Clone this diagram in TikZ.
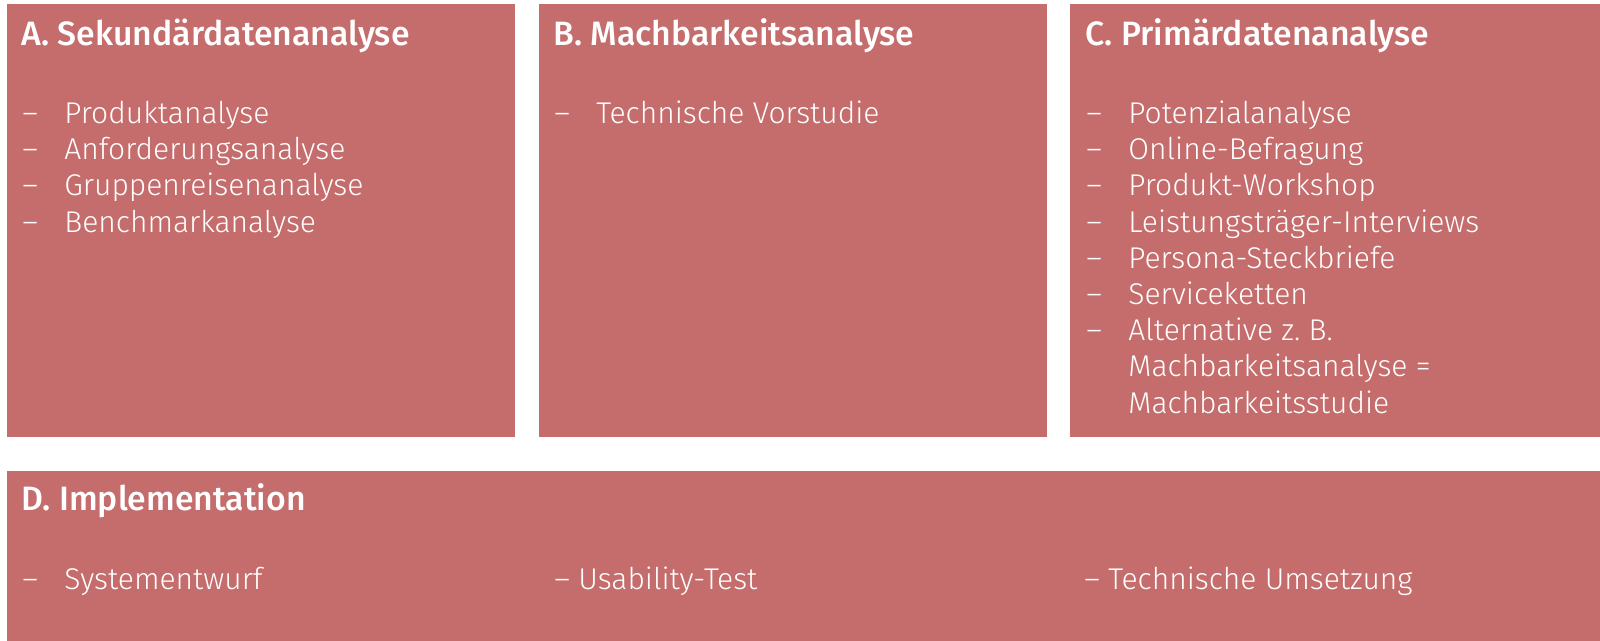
\documentclass[tikz,border=0pt]{standalone}
\usepackage{fontspec}
\newfontfamily\itemfont{Fira Sans Light}
\newfontfamily\titlefont{Fira Sans Medium}
\definecolor{boxred}{RGB}{197,108,108}
\tikzset{
  panel/.style={fill=boxred, draw=none, inner sep=0pt},
  ttl/.style={anchor=base west, inner sep=0pt, text=white, font=\titlefont\fontsize{16.9}{19}\selectfont},
  itm/.style={anchor=base west, inner sep=0pt, text=white, font=\itemfont\fontsize{15}{17}\selectfont},
}
\begin{document}
\begin{tikzpicture}[x=0.5pt,y=-0.5pt]
\useasboundingbox (0,0) rectangle (1600,641);
\fill[white] (0,0) rectangle (1600,641);
% panels
\path[panel] (7,4) rectangle (515,437) node[pos=0.5] (pA) {};
\path[panel] (539,4) rectangle (1047,437) node[pos=0.5] (pB) {};
\path[panel] (1070,4) rectangle (1600,437) node[pos=0.5] (pC) {};
\path[panel] (7,471) rectangle (1600,641) node[pos=0.5] (pD) {};
% titles
\node[ttl] (tA) at (21,46) {A. Sekundärdatenanalyse};
\node[ttl] (tB) at (553,46) {B. Machbarkeitsanalyse};
\node[ttl] (tC) at (1085,46) {C. Primärdatenanalyse};
\node[ttl] (tD) at (21,510) {D. Implementation};
% A items
\foreach \t [count=\i from 0] in {Produktanalyse,Anforderungsanalyse,Gruppenreisenanalyse,Benchmarkanalyse}{
  \node[itm] (dA\i) at (22,123.5+36.2*\i) {–};
  \node[itm] (iA\i) at (64,123.5+36.2*\i) {\t};
}
% B items
\node[itm] (dB0) at (554,123.5) {–};
\node[itm] (iB0) at (596,123.5) {Technische Vorstudie};
% C items
\foreach \t [count=\i from 0] in {Potenzialanalyse,Online-Befragung,Produkt-Workshop,Leistungsträger-Interviews,Persona-Steckbriefe,Serviceketten,Alternative z.\ B.}{
  \node[itm] (dC\i) at (1086,123.5+36.2*\i) {–};
  \node[itm] (iC\i) at (1128,123.5+36.2*\i) {\t};
}
\node[itm] (iC7) at (1128,123.5+36.2*7) {Machbarkeitsanalyse =};
\node[itm] (iC8) at (1128,123.5+36.2*8) {Machbarkeitsstudie};
% D items
\node[itm] (dD0) at (22,589) {–};
\node[itm] (iD0) at (64,589) {Systementwurf};
\node[itm] (iD1) at (554,589) {– Usability-Test};
\node[itm] (iD2) at (1084,589) {– Technische Umsetzung};
\end{tikzpicture}
\end{document}
